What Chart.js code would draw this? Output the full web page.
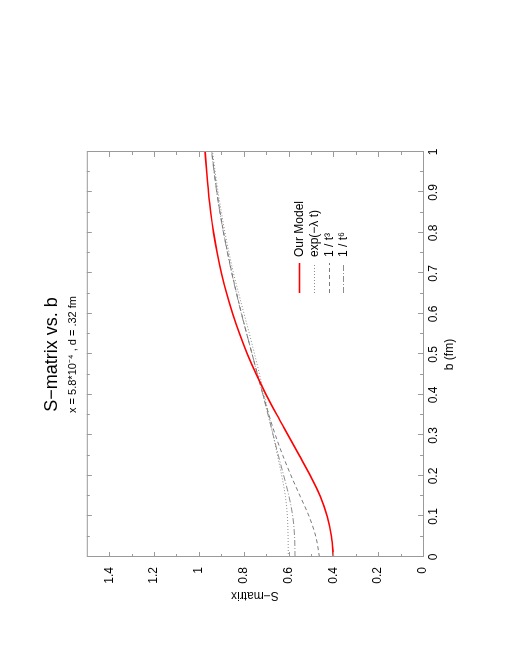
<!DOCTYPE html>
<html>
<head>
<meta charset="utf-8">
<title>S-matrix vs. b</title>
<script src="https://cdn.jsdelivr.net/npm/chart.js@4/dist/chart.umd.min.js"></script>
<style>
html, body { margin: 0; padding: 0; background: #fff; overflow: hidden; }
#page { position: relative; width: 510px; height: 660px; overflow: hidden; }
/* the plot is drawn landscape, then turned a quarter to the left */
#turn {
    position: absolute; left: 0; top: 0;
    width: 660px; height: 510px;
    transform-origin: 0 0;
    transform: translate(0, 660px) rotate(-90deg);
}
</style>
</head>
<body>
<div id="page"><div id="turn"><canvas id="chart" width="660" height="510"></canvas></div></div>
<script>

// impact parameter b (fm)
const bValues = [0, 0.05, 0.1, 0.15, 0.2, 0.25, 0.3, 0.35, 0.4, 0.45, 0.5,
                 0.55, 0.6, 0.65, 0.7, 0.75, 0.8, 0.85, 0.9, 0.95, 1];

// S-matrix curves
const ourModel  = [0.400, 0.408, 0.427, 0.458, 0.502, 0.551, 0.601, 0.651, 0.699, 0.743, 0.783,
                   0.818, 0.849, 0.876, 0.899, 0.918, 0.934, 0.947, 0.957, 0.965, 0.972];
const expLambda = [0.601, 0.602, 0.605, 0.614, 0.630, 0.649, 0.668, 0.688, 0.708, 0.729, 0.751,
                   0.774, 0.798, 0.822, 0.845, 0.865, 0.883, 0.899, 0.914, 0.927, 0.939];
const invT3     = [0.462, 0.478, 0.508, 0.548, 0.588, 0.625, 0.658, 0.687, 0.713, 0.738, 0.762,
                   0.786, 0.809, 0.831, 0.852, 0.871, 0.889, 0.905, 0.919, 0.931, 0.942];
const invT6     = [0.571, 0.573, 0.581, 0.598, 0.621, 0.645, 0.668, 0.691, 0.714, 0.738, 0.762,
                   0.786, 0.810, 0.832, 0.853, 0.872, 0.890, 0.906, 0.920, 0.932, 0.943];

const seriesLabels = ["Our Model", "exp(\u2212\u03bb t)", "1 / t\u00b3", "1 / t\u2076"];

const bRange = [0, 1];
const sRange = [0, 1.5];

const FONT = "'Liberation Sans', Arial, Helvetica, sans-serif";

function points(ys){
    return bValues.map((b, i) => ({ x: b, y: ys[i] }));
}

// gnuplot style numbers: 0, 0.2, 1, 1.4
function plainNumber(v){
    return String(Number(v.toFixed(2)));
}


// frame with small ticks pointing inwards, like gnuplot
const frameTicks = {
    id: "frameTicks",
    afterDatasetsDraw(chart){
        const { ctx, chartArea: a, scales: { x, y } } = chart;
        ctx.save();
        ctx.strokeStyle = "#9a9a9a";
        ctx.lineWidth = 1;
        ctx.setLineDash([]);
        ctx.strokeRect(a.left + 0.5, a.top + 0.5, a.width, a.height);

        ctx.beginPath();
        for(let i = 1; i < 20; i++){
            const px = Math.round(x.getPixelForValue(i / 20)) + 0.5;
            const len = i % 2 ? 3 : 5;
            ctx.moveTo(px, a.bottom); ctx.lineTo(px, a.bottom - len);
            ctx.moveTo(px, a.top);    ctx.lineTo(px, a.top + len);
        }
        for(let i = 1; i < 15; i++){
            const py = Math.round(y.getPixelForValue(i / 10)) + 0.5;
            const len = i % 2 ? 3 : 5;
            ctx.moveTo(a.left, py);  ctx.lineTo(a.left + len, py);
            ctx.moveTo(a.right, py); ctx.lineTo(a.right - len, py);
        }
        ctx.stroke();
        ctx.restore();
    }
};

// key: line sample on the left, label on the right, one row per series
const keyBox = {
    id: "keyBox",
    afterDatasetsDraw(chart, args, opts){
        const ctx = chart.ctx;
        ctx.save();
        chart.data.datasets.forEach((ds, i) => {
            const yy = Math.round(opts.top + i * opts.rowGap) + 0.5;
            ctx.strokeStyle = ds.borderColor;
            ctx.lineWidth = ds.borderWidth;
            ctx.setLineDash(ds.borderDash || []);
            ctx.beginPath();
            ctx.moveTo(opts.left, yy);
            ctx.lineTo(opts.left + opts.sample, yy);
            ctx.stroke();

            ctx.setLineDash([]);
            ctx.fillStyle = "#000";
            ctx.font = "12px " + FONT;
            ctx.textAlign = "left";
            ctx.textBaseline = "middle";
            ctx.fillText(ds.label, opts.left + opts.sample + 6, yy);
        });
        ctx.restore();
    }
};


const ctx = document.getElementById("chart").getContext("2d");

new Chart(ctx, {
    type: "line",
    data: {
        datasets: [
            {
                label: seriesLabels[0],
                data: points(ourModel),
                borderColor: "#ff0000",
                borderWidth: 1.6
            },
            {
                label: seriesLabels[1],
                data: points(expLambda),
                borderColor: "#8c8c8c",
                borderWidth: 1,
                borderDash: [1, 2]
            },
            {
                label: seriesLabels[2],
                data: points(invT3),
                borderColor: "#7a7a7a",
                borderWidth: 1,
                borderDash: [4, 3]
            },
            {
                label: seriesLabels[3],
                data: points(invT6),
                borderColor: "#8c8c8c",
                borderWidth: 1,
                borderDash: [6, 2, 1, 2]
            }
        ]
    },
    options: {
        responsive: false,
        animation: false,
        devicePixelRatio: 1,
        elements: {
            point: { radius: 0 },
            line: { cubicInterpolationMode: "monotone", fill: false }
        },
        layout: { padding: { left: 0, right: 152, top: 0, bottom: 0 } },
        scales: {
            x: {
                type: "linear",
                position: "bottom",
                min: bRange[0],
                max: bRange[1],
                grid: { display: false, drawTicks: false },
                border: { display: false },
                ticks: {
                    stepSize: 0.1,
                    padding: 3,
                    color: "#000",
                    font: { family: FONT, size: 12 },
                    maxRotation: 0,
                    callback: plainNumber
                },
                title: {
                    display: true,
                    text: "b (fm)",
                    color: "#000",
                    font: { family: FONT, size: 12 },
                    padding: { top: 0, bottom: 53 }
                },
                afterFit(scale){ scale.height = 87; }
            },
            y: {
                type: "linear",
                position: "left",
                min: sRange[0],
                max: sRange[1],
                grid: { display: false, drawTicks: false },
                border: { display: false },
                ticks: {
                    stepSize: 0.2,
                    includeBounds: false,
                    padding: 10,
                    color: "#000",
                    font: { family: FONT, size: 12 },
                    callback: plainNumber
                },
                title: {
                    display: true,
                    text: "S\u2212matrix",
                    color: "#000",
                    font: { family: FONT, size: 12 },
                    padding: { top: 57, bottom: 0 }
                },
                afterFit(scale){ scale.width = 103; }
            }
        },
        plugins: {
            legend: { display: false },
            tooltip: { enabled: false },
            title: {
                display: true,
                fullSize: false,
                text: "S\u2212matrix vs. b",
                color: "#000",
                font: { family: FONT, size: 18, weight: "normal" },
                padding: { top: 41, bottom: 0 }
            },
            subtitle: {
                display: true,
                fullSize: false,
                text: "x = 5.8*10\u207b\u2074 , d = .32 fm",
                color: "#000",
                font: { family: FONT, size: 11 },
                padding: { top: 4, bottom: 7 }
            },
            keyBox: { left: 367, sample: 30, top: 299, rowGap: 14.8 }
        }
    },
    plugins: [frameTicks, keyBox]
});

</script>
</body>
</html>
